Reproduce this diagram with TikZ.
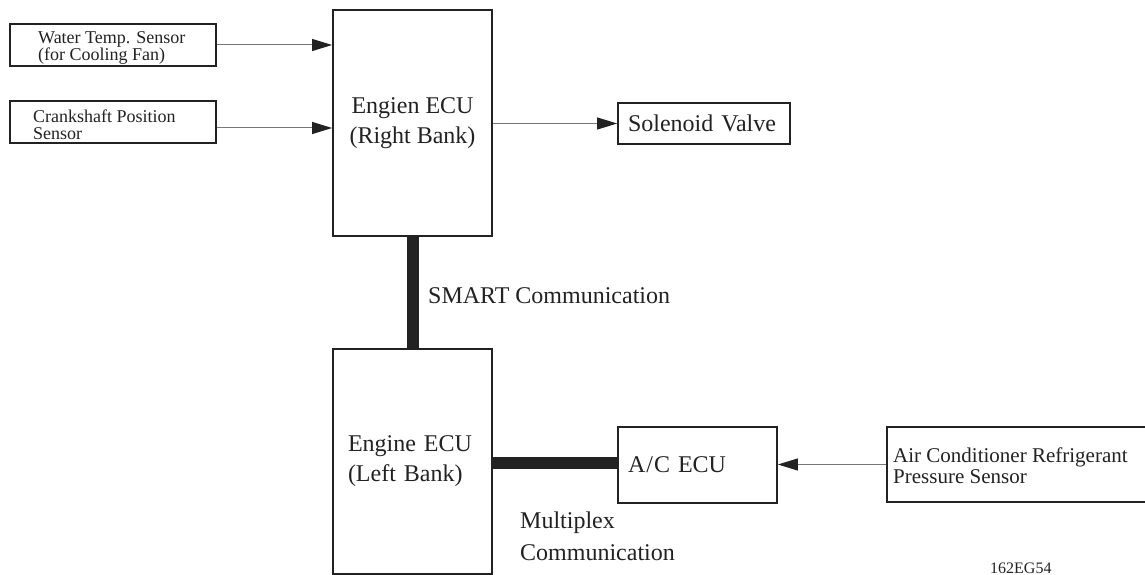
\documentclass[tikz,border=0pt]{standalone}
\usepackage{fontspec}
\setmainfont{Liberation Serif}
\usetikzlibrary{arrows.meta}
\definecolor{ink}{HTML}{222222}
\definecolor{wire}{HTML}{777777}
\begin{document}
\begin{tikzpicture}[x=1pt,y=-1pt,
  box/.style={draw=ink, line width=1.8pt, inner sep=0pt, rectangle},
  bigtxt/.style={font=\fontsize{24}{30}\selectfont, text=ink},
  smalltxt/.style={font=\fontsize{18}{17}\selectfont, text=ink, inner sep=0pt, align=left},
  sig/.style={draw=wire, line width=1pt, -{Triangle[length=20pt,width=12pt,fill=ink,color=ink]}},
  bus/.style={draw=ink, line width=12pt}]
\clip (0,0) rectangle (1145,575);
\fill[white] (0,0) rectangle (1145,575);
% boxes
\node[box, minimum width=206pt, minimum height=42pt] (water) at (113,45) {};
\node[smalltxt, anchor=north west] (watert) at (38,31) {Water Temp. Sensor\\(for Cooling Fan)};
\node[box, minimum width=206pt, minimum height=42pt] (crank) at (113,122) {};
\node[smalltxt, anchor=north west] (crankt) at (33,109.7) {Crankshaft Position\\Sensor};
\node[box, bigtxt, minimum width=159pt, minimum height=226pt, align=center] (recu) at (412.5,123) {Engien ECU\\(Right Bank)};
\node[box, bigtxt, minimum height=225pt, inner xsep=15pt, text width=129pt, align=left] (lecu) at (412.5,461.5) {Engine ECU\\(Left Bank)};
\node[box, bigtxt, minimum height=41pt, inner xsep=10pt, text width=152pt, align=left] (sol) at (704,123.5) {Solenoid Valve};
\node[box, bigtxt, minimum height=76pt, inner xsep=10pt, text width=139pt, align=left] (ac) at (697.5,465) {A{\kern1pt}/{\kern1pt}C ECU};
\node[box, minimum width=270pt, minimum height=75pt] (pres) at (1022,464.5) {};
\node[inner sep=0pt, anchor=north west, align=left, font=\fontsize{21}{21}\selectfont, text=ink] (prest) at (893,447.7) {Air Conditioner Refrigerant\\Pressure Sensor};
% labels
\node[bigtxt, inner sep=0pt, anchor=base west] (smart) at (428,303) {SMART Communication};
\node[inner sep=0pt, anchor=north west, align=left, font=\fontsize{24}{32}\selectfont, text=ink] (mplx) at (520,511.6) {Multiplex\\Communication};
\node[inner sep=0pt, anchor=base west, font=\fontsize{16}{18}\selectfont, text=ink] (code) at (990,573) {162EG54};
% connectors
\draw[sig] (water.east) -- (water.east -| recu.west);
\draw[sig] ([yshift=-6pt]crank.east) -- ([yshift=-6pt]crank.east -| recu.west);
\draw[sig] (sol.west -| recu.east) -- (sol.west);
\draw[sig] (pres.west) -- (pres.west -| ac.east);
\draw[bus] (recu.south) -- (lecu.north);
\draw[bus] ([yshift=2pt]ac.west -| lecu.east) -- ([yshift=2pt]ac.west);
\end{tikzpicture}
\end{document}
